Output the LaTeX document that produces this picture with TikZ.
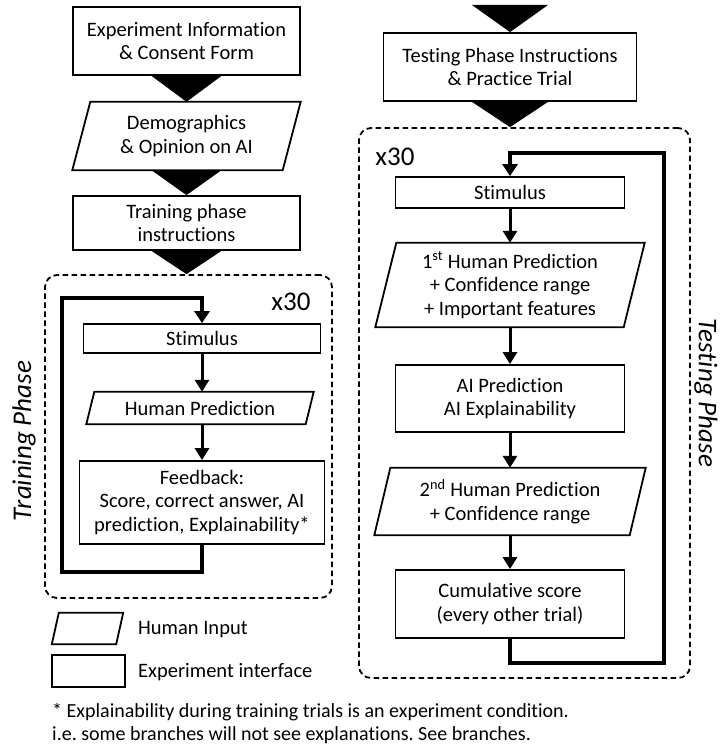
\documentclass[tikz,border=0pt]{standalone}
\usepackage{fontspec}
\setmainfont{Carlito}[Ligatures=NoCommon]
\usetikzlibrary{arrows.meta}
\frenchspacing

\begin{document}
\begin{tikzpicture}[x=1pt, y=-1pt,
                    every node/.style={font=\fontsize{20.5}{23.5}\selectfont},
                    ibox/.style={draw, line width=1.8pt, align=center, inner sep=0pt},
                    hinput/.style={align=center, inner sep=0pt,
                                   append after command={\pgfextra{\draw[line width=1.8pt]
                                     ([xshift=#1]\tikzlastnode.north west) -- ([xshift=#1]\tikzlastnode.north east)
                                     -- ([xshift=-#1]\tikzlastnode.south east) -- ([xshift=-#1]\tikzlastnode.south west)
                                     -- cycle;}}},
                    phase/.style={draw, line width=1.8pt, dash pattern=on 5.5pt off 3.5pt,
                                  rounded corners=12pt, inner sep=0pt},
                    flow/.style={line width=3pt, -{Triangle[length=12pt, width=14pt]}},
                    loopline/.style={line width=4.5pt, -{Triangle[length=12pt, width=15pt]}},
                    big/.style={font=\fontsize{27}{30}\selectfont}]
      \useasboundingbox (0,0) rectangle (719,751);

      % before training
      \node[ibox, minimum width=227pt, minimum height=68pt] (info) at (186.5,41) {Experiment Information\\ \& Consent Form};
      \node[hinput=9pt, minimum width=210pt, minimum height=68pt] (demo) at (186.5,136) {Demographics\\ \& Opinion on AI};
      \node[ibox, minimum width=227pt, minimum height=54pt] (trinst) at (186.5,223) {Training phase\\ instructions};

      % training phase
      \node[phase, minimum width=287pt, minimum height=323pt] (train) at (188.5,436.5) {};
      \node[ibox, minimum width=237pt, minimum height=29pt] (stim1) at (202,338.5) {Stimulus};
      \node[hinput=4pt, minimum width=219pt, minimum height=32pt] (hpred) at (200,408) {Human Prediction};
      \node[ibox, minimum width=245pt, minimum height=83pt] (feedb) at (202,502.5) {Feedback:\\ Score, correct answer, AI\\ prediction, Explainability*};
      \node[big] (trx) at (291,302) {x30};
      \node[big, rotate=90] (trlab) at (24,441) {\itshape Training Phase};
      \coordinate (trbl) at (62,572);
      \coordinate (trtl) at (62,298);

      % testing phase
      \coordinate (ttop) at (510,5);
      \node[ibox, minimum width=253pt, minimum height=68pt] (tinst) at (510,67) {Testing Phase Instructions\\ \& Practice Trial};
      \node[phase, minimum width=331pt, minimum height=550pt] (test) at (524.5,403) {};
      \node[ibox, minimum width=229pt, minimum height=31pt] (stim2) at (510,192.5) {Stimulus};
      \node[hinput=10.5pt, minimum width=248pt, minimum height=84pt] (hpred1) at (510,285) {1\textsuperscript{st} Human Prediction\\ + Confidence range\\ + Important features};
      \node[ibox, minimum width=229pt, minimum height=67pt] (aipred) at (510,398.5) {AI Prediction\\ AI Explainability};
      \node[hinput=8pt, minimum width=255pt, minimum height=67pt] (hpred2) at (510,501.5) {2\textsuperscript{nd} Human Prediction\\ + Confidence range};
      \node[ibox, minimum width=229pt, minimum height=68pt] (cumsc) at (510,604) {Cumulative score\\ (every other trial)};
      \node[big] (tex) at (395,157) {x30};
      \node[big, rotate=-90] (telab) at (706,393) {\itshape Testing Phase};
      \coordinate (tebr) at (664,663);
      \coordinate (tetr) at (664,153);

      % legend
      \node[hinput=3.5pt, minimum width=64pt, minimum height=31pt] (lghum) at (87.5,628.5) {};
      \node[ibox, minimum width=73pt, minimum height=32pt] (lgexp) at (88.5,671) {};
      \node[anchor=west, inner sep=0pt] (lghumt) at (138,630) {Human Input};
      \node[anchor=west, inner sep=0pt] (lgexpt) at (138,672) {Experiment interface};
      \node[anchor=north west, align=left, inner sep=0pt, font=\fontsize{20}{23}\selectfont] (fnote) at (52,703) {* Explainability during training trials is an experiment condition.\\ i.e. some branches will not see explanations. See branches.};

      \fill ([xshift=-35pt]info.south) -- ([xshift=35pt]info.south) -- (demo.north) -- cycle;
      \fill ([xshift=-35pt]demo.south) -- ([xshift=35pt]demo.south) -- (trinst.north) -- cycle;
      \fill ([xshift=-35pt]trinst.south) -- ([xshift=35pt]trinst.south) -- (trinst.south |- train.north) -- cycle;
      \fill ([xshift=-38pt]ttop) -- ([xshift=38pt]ttop) -- (tinst.north) -- cycle;
      \fill ([xshift=-38pt]tinst.south) -- ([xshift=38pt]tinst.south) -- (tinst.south |- test.north) -- cycle;

      \draw[flow] (stim1.south) -- (stim1.south |- hpred.north);
      \draw[flow] (stim1.south |- hpred.south) -- (feedb.north);
      \draw[loopline] (feedb.south) |- (trbl) -- (trtl) -| (stim1.north);

      \draw[flow] (stim2.south) -- (hpred1.north);
      \draw[flow] (hpred1.south) -- (aipred.north);
      \draw[flow] (aipred.south) -- (hpred2.north);
      \draw[flow] (hpred2.south) -- (cumsc.north);
      \draw[loopline] (cumsc.south) |- (tebr) -- (tetr) -| (stim2.north);
    \end{tikzpicture}
\end{document}
